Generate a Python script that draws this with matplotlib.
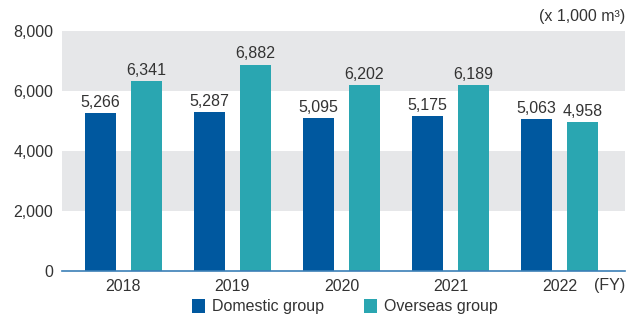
import matplotlib.pyplot as plt
import numpy as np

plt.rcParams['font.family'] = ['Liberation Sans', 'DejaVu Sans']

years = ['2018', '2019', '2020', '2021', '2022']
domestic = [5266, 5287, 5095, 5175, 5063]
overseas = [6341, 6882, 6202, 6189, 4958]

c_dom = '#00589f'
c_ovs = '#2aa6b1'
txt = '#333333'
fs = 11.5

fig = plt.figure(figsize=(6.37, 3.21), dpi=100)
ax = fig.add_axes([0.097, 0.156, 0.884, 0.747])

x = np.arange(len(years))
w = 0.285
off = 0.21

# alternating grey bands
ax.axhspan(6000, 8000, color='#e6e7e9', zorder=0, lw=0)
ax.axhspan(2000, 4000, color='#e6e7e9', zorder=0, lw=0)

b1 = ax.bar(x - off, domestic, w, color=c_dom, zorder=2, label='Domestic group')
b2 = ax.bar(x + off, overseas, w, color=c_ovs, zorder=2, label='Overseas group')

for rects, vals in ((b1, domestic), (b2, overseas)):
    for r, v in zip(rects, vals):
        ax.text(r.get_x() + r.get_width() / 2, v + 110, f'{v:,}',
                ha='center', va='bottom', fontsize=fs, color=txt)

ax.set_xlim(-0.565, 4.6)
ax.set_ylim(0, 8000)
ax.set_yticks([0, 2000, 4000, 6000, 8000])
ax.set_yticklabels([f'{t:,}' for t in [0, 2000, 4000, 6000, 8000]])
ax.set_xticks(x)
ax.set_xticklabels(years)
ax.tick_params(length=0, labelsize=fs, labelcolor=txt)
ax.tick_params(axis='y', pad=6)
ax.tick_params(axis='x', pad=6)

for s in ['top', 'right', 'left']:
    ax.spines[s].set_visible(False)
ax.spines['bottom'].set_color('#3b7fb6')
ax.spines['bottom'].set_linewidth(1.2)
ax.spines['bottom'].set_zorder(3)

fig.text(0.981, 0.948, '(x 1,000 m\u00b3)', ha='right', va='center',
         fontsize=fs, color=txt)
fig.text(0.981, 0.11, '(FY)', ha='right', va='center', fontsize=fs, color=txt)

fig.legend(handles=[b1, b2], loc='center', bbox_to_anchor=(0.541, 0.045),
           ncol=2, frameon=False, fontsize=fs, handlelength=0.85,
           handleheight=1.0, handletextpad=0.4, columnspacing=2.5,
           labelcolor=txt)

fig.savefig('out.png', dpi=100)
